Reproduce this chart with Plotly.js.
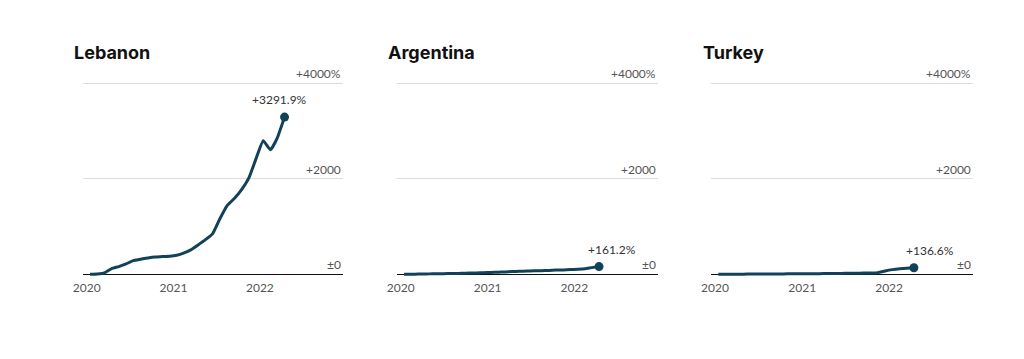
<!DOCTYPE html>
<html>
<head>
<meta charset="utf-8">
<script src="https://cdn.plot.ly/plotly-3.0.1.min.js"></script>
<style>html,body{margin:0;padding:0;background:#fff;}#chart{width:1024px;height:359px;}</style>
</head>
<body>
<div id="chart"></div>
<script>
const months = ["2020-01-15","2020-02-15","2020-03-15","2020-04-15","2020-05-15","2020-06-15","2020-07-15","2020-08-15","2020-09-15","2020-10-15","2020-11-15","2020-12-15",
"2021-01-15","2021-02-15","2021-03-15","2021-04-15","2021-05-15","2021-06-15","2021-07-15","2021-08-15","2021-09-15","2021-10-15","2021-11-15","2021-12-15",
"2022-01-15","2022-02-15","2022-03-15","2022-04-15"];
const countries = ["Lebanon","Argentina","Turkey"];
const lebanon = [0,7,28,119,161,217,287,315,343,364,371,378,399,448,511,615,720,846,1154,1434,1587,1769,2014,2412,2797,2608,2853,3291.9];
const argentina = [0,2,5,8,10,12,15,18,21,25,29,34,40,45,51,57,62,67,72,77,82,88,92,99,107,118,140,161.2];
const turkey = [0,1,2,3,4,5,6,7,8,9,10,11,12,13,14,15,17,19,21,23,25,28,35,70,98,116,127,136.6];
const series = [lebanon, argentina, turkey];
const endLabels = ["+3291.9%","+161.2%","+136.6%"];
const gridLabels = ["±0","+2000","+4000%"];
const gridVals = [0,2000,4000];
const yearTicks = ["2020-01-01","2021-01-01","2022-01-01"];
const yearText = ["2020","2021","2022"];

const lineColor = "#12425a";
const domains = [[0.0808,0.3350],[0.3874,0.6423],[0.6943,0.9499]];
const titleX = [0.0700,0.3766,0.6842];
const labelShift = [-5,13,16];
const ydom = [0.2226,0.7946];

const traces = [];
const annotations = [];
const layout = {
  width:1024, height:359,
  margin:{l:0,r:0,t:0,b:0},
  paper_bgcolor:"#fff", plot_bgcolor:"#fff",
  showlegend:false,
  font:{family:"Lato, 'Open Sans', sans-serif", size:12, color:"#555"},
  annotations:annotations
};

series.forEach((vals,i)=>{
  const sfx = i===0 ? "" : String(i+1);
  const xa = "x"+sfx, ya = "y"+sfx;
  traces.push({
    x:months, y:vals, xaxis:xa, yaxis:ya, type:"scatter", mode:"lines",
    line:{color:lineColor, width:3, shape:"spline", smoothing:0.4}, hoverinfo:"skip"
  });
  traces.push({
    x:[months[months.length-1]], y:[vals[vals.length-1]], xaxis:xa, yaxis:ya,
    type:"scatter", mode:"markers", marker:{color:lineColor, size:9}, cliponaxis:false, hoverinfo:"skip"
  });
  layout["xaxis"+sfx] = {
    domain:domains[i], anchor:ya, type:"date",
    range:["2019-12-15","2022-12-18"],
    tickvals:yearTicks, ticktext:yearText, showgrid:false, zeroline:false,
    showline:false, ticks:"", tickfont:{size:12,color:"#555"}, fixedrange:true
  };
  layout["yaxis"+sfx] = {
    domain:ydom, anchor:xa, range:[-100,4200],
    tickvals:[2000,4000], showgrid:true, gridcolor:"#dcdcdc", gridwidth:1,
    zeroline:true, zerolinecolor:"#111", zerolinewidth:1.6,
    showticklabels:false, ticks:"", fixedrange:true
  };
  annotations.push({
    xref:"paper", yref:"paper", x:titleX[i], y:0.855, xanchor:"left", yanchor:"middle",
    text:"<b>"+countries[i]+"</b>", showarrow:false,
    font:{family:"Inter, 'Libre Franklin', sans-serif", size:18, color:"#111"}
  });
  gridVals.forEach((g,k)=>{
    annotations.push({
      xref:xa+" domain", yref:ya, x:1, y:g, xanchor:"right", yanchor:"bottom",
      text:gridLabels[k], showarrow:false, yshift:0,
      font:{size:12,color:"#555"}
    });
  });
  annotations.push({
    xref:xa, yref:ya, x:months[months.length-1], y:vals[vals.length-1],
    xanchor:"center", yanchor:"bottom", yshift:8, xshift:labelShift[i],
    text:endLabels[i], showarrow:false, font:{size:12,color:"#333"}
  });
});

Plotly.newPlot("chart", traces, layout, {staticPlot:true, displayModeBar:false});
</script>
</body>
</html>
